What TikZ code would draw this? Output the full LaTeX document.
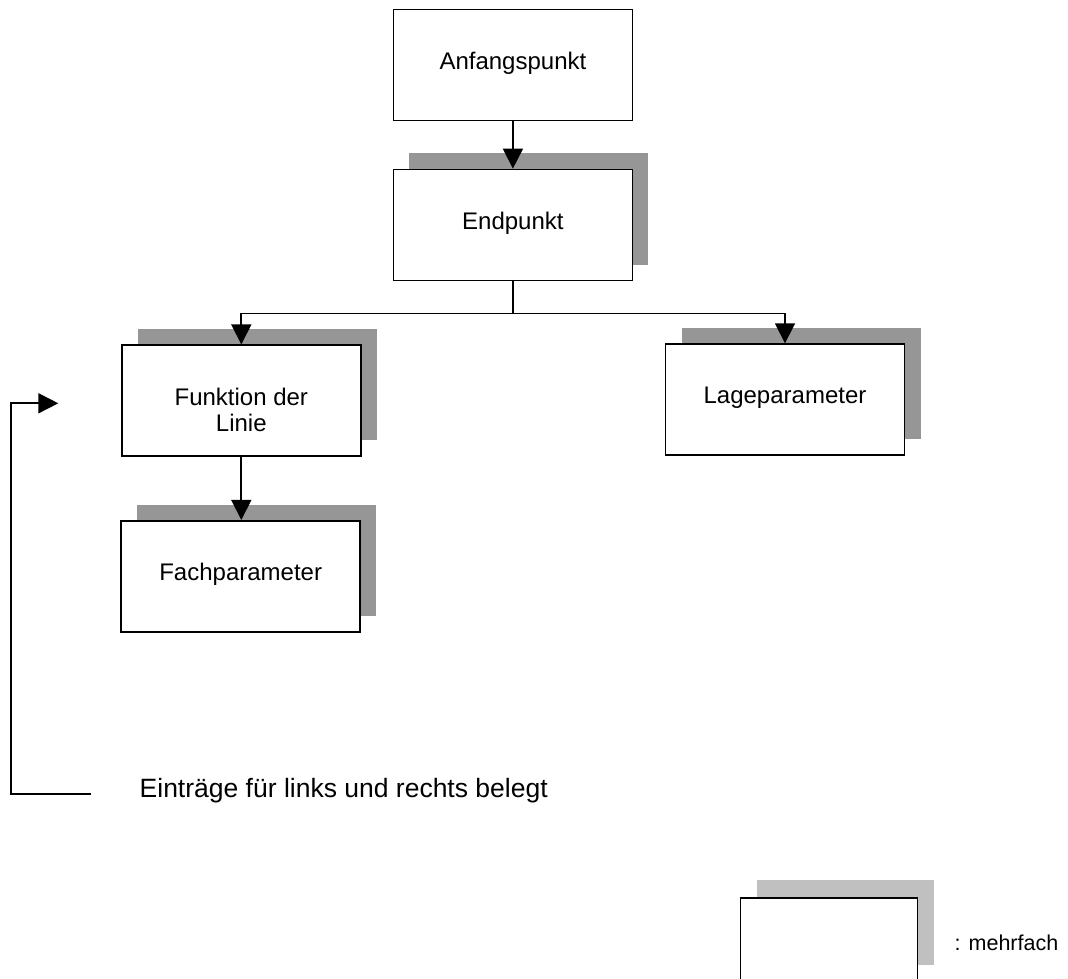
\documentclass[tikz,border=0pt]{standalone}
\usepackage{fontspec}
\setmainfont{Liberation Sans}
\usetikzlibrary{arrows.meta,shadows}
\definecolor{shadowgray}{RGB}{150,150,150}
\definecolor{legendgray}{RGB}{192,192,192}
\begin{document}
\begin{tikzpicture}[
  x=1pt, y=-1pt,
  every node/.style={font=\fontsize{24}{26.7}\selectfont},
  single/.style={draw=black, line width=1.8pt, fill=white,
    minimum width=239pt, minimum height=111pt, inner sep=0pt,
    text height=16pt, text depth=7.6pt, align=center},
  entity/.style={single,
    drop shadow={shadow xshift=16pt, shadow yshift=16pt,
      fill=shadowgray, opacity=1}},
  conn/.style={line width=1.8pt, draw=black},
  arrowconn/.style={conn, -{Triangle[length=20pt,width=20pt]}},
  caption/.style={inner sep=0pt, anchor=base west}
]
\useasboundingbox (0,0) rectangle (1068,979);

% tree of entities
\node[single] (anf)  at (512.9,65)    {Anfangspunkt};
\node[entity] (endp) at (512.9,225)   {Endpunkt};
\node[entity, text height=70pt, text depth=8.2pt]
              (funk) at (241.3,400.8) {Funktion der\\Linie};
\node[entity] (lage) at (785,399.7)   {Lageparameter};
\node[entity] (fach) at (240.7,576.3) {Fachparameter};

% connectors
\draw[arrowconn] (anf.south) -- (endp.north);
\draw[conn] (endp.south) -- (endp.south |- 0,313.5) coordinate (fork);
\draw[arrowconn] (fork) -| (funk.north);
\draw[arrowconn] (fork) -| (lage.north);
\draw[arrowconn] (funk.south) -- (funk.south |- fach.north);

% return loop for left/right entries
\coordinate (loopstart) at (91,794.3);
\coordinate (loopcorner) at (10.7,794.3);
\coordinate (looptip) at (58.3,403.3);
\draw[arrowconn] (loopstart) -- (loopcorner) |- (looptip);
\node[caption, font=\fontsize{26.5}{30}\selectfont] (loopnote) at (139.5,797)
  {Einträge für links und rechts belegt};

% legend
\node[draw=black, line width=1.8pt, fill=white,
  minimum width=177pt, minimum height=85pt, inner sep=0pt,
  drop shadow={shadow xshift=16pt, shadow yshift=18.5pt,
    fill=legendgray, opacity=1}] (legend) at (829,940.5) {};
\node[caption, font=\fontsize{21.5}{25}\selectfont] (legendtext) at (954.5,950)
  {: mehrfach};
\end{tikzpicture}
\end{document}
